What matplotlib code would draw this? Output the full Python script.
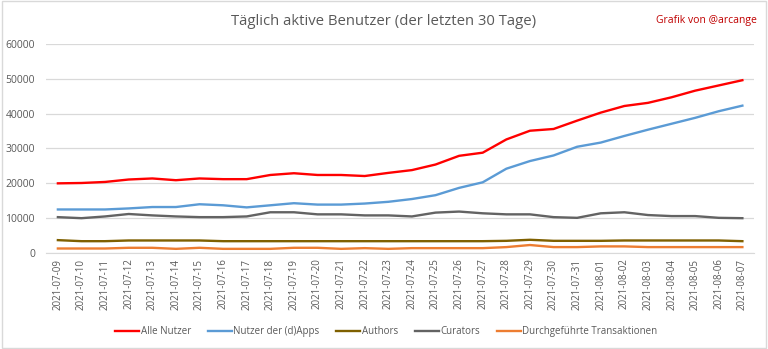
import matplotlib
matplotlib.use("Agg")
import matplotlib.pyplot as plt
from matplotlib.patches import Rectangle

dates = ["2021-07-09","2021-07-10","2021-07-11","2021-07-12","2021-07-13","2021-07-14",
         "2021-07-15","2021-07-16","2021-07-17","2021-07-18","2021-07-19","2021-07-20",
         "2021-07-21","2021-07-22","2021-07-23","2021-07-24","2021-07-25","2021-07-26",
         "2021-07-27","2021-07-28","2021-07-29","2021-07-30","2021-07-31","2021-08-01",
         "2021-08-02","2021-08-03","2021-08-04","2021-08-05","2021-08-06","2021-08-07"]

alle_nutzer = [20000, 20100, 20400, 21100, 21400, 20900, 21400, 21200, 21200, 22400,
               22900, 22400, 22400, 22100, 23000, 23800, 25400, 27900, 28800, 32600,
               35100, 35600, 38000, 40300, 42200, 43100, 44700, 46600, 48100, 49600]
dapps = [12500, 12500, 12500, 12800, 13200, 13200, 14000, 13700, 13100, 13700,
         14300, 13900, 13900, 14200, 14700, 15500, 16600, 18700, 20300, 24200,
         26400, 28000, 30500, 31700, 33600, 35400, 37100, 38800, 40700, 42300]
authors = [3700, 3400, 3400, 3600, 3600, 3600, 3600, 3400, 3400, 3400,
           3400, 3400, 3400, 3400, 3400, 3400, 3400, 3400, 3400, 3500,
           3800, 3500, 3500, 3500, 3600, 3600, 3600, 3600, 3600, 3400]
curators = [10300, 10000, 10500, 11200, 10800, 10500, 10300, 10300, 10500, 11700,
            11700, 11100, 11100, 10800, 10800, 10500, 11600, 11900, 11400, 11100,
            11100, 10300, 10100, 11400, 11700, 10900, 10600, 10600, 10100, 10000]
transaktionen = [1300, 1300, 1300, 1500, 1500, 1200, 1500, 1200, 1200, 1200,
                 1500, 1500, 1200, 1400, 1200, 1400, 1400, 1400, 1400, 1700,
                 2300, 1700, 1700, 1900, 1900, 1700, 1700, 1700, 1700, 1700]

series = [("Alle Nutzer", alle_nutzer, "#FF0000"),
          ("Nutzer der (d)Apps", dapps, "#5B9BD5"),
          ("Authors", authors, "#7F6000"),
          ("Curators", curators, "#636363"),
          ("Durchgeführte Transaktionen", transaktionen, "#ED7D31")]

plt.rcParams['font.family'] = ['Open Sans', 'DejaVu Sans']
txt = "#595959"

fig = plt.figure(figsize=(7.68, 3.49), dpi=100)
ax = fig.add_axes([0.06, 0.275, 0.922, 0.599])

x = list(range(len(dates)))
for name, vals, col in series:
    ax.plot(x, vals, color=col, lw=1.7, label=name, solid_joinstyle="round")

ax.set_xlim(-0.5, len(dates) - 0.5)
ax.set_ylim(0, 60000)
ax.set_yticks(range(0, 60001, 10000))
ax.set_xticks(x)
ax.set_xticklabels(dates, rotation=90, fontsize=7, color=txt)
ax.tick_params(axis='y', labelsize=7.5, colors=txt, length=0, pad=8)
ax.tick_params(axis='x', length=0, pad=4)
ax.grid(axis='y', color="#D9D9D9", lw=0.9)
ax.set_axisbelow(True)
for s in ["top", "right", "left"]:
    ax.spines[s].set_visible(False)
ax.spines["bottom"].set_color("#D9D9D9")

fig.text(0.5, 0.937, "Täglich aktive Benutzer (der letzten 30 Tage)", ha="center", va="center",
         fontsize=10.7, color=txt)
fig.text(0.985, 0.94, "Grafik von @arcange", ha="right", va="center", fontsize=7.5, color="#C00000")

leg = fig.legend(loc="center", bbox_to_anchor=(0.503, 0.05), ncol=5, frameon=False,
                 fontsize=7, handlelength=2.5, columnspacing=1.7, handletextpad=0.15)
for t in leg.get_texts():
    t.set_color(txt)

fig.patches.append(Rectangle((0.002, 0.003), 0.995, 0.993, transform=fig.transFigure,
                             fill=False, edgecolor="#D9D9D9", lw=1))

fig.savefig("out.png", dpi=100)
